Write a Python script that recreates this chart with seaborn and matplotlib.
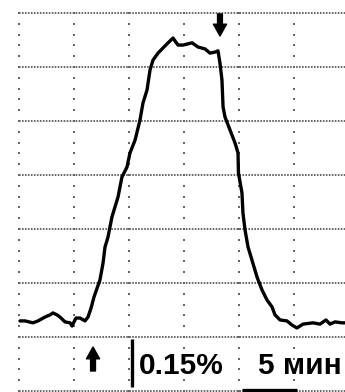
import numpy as np
import pandas as pd
import matplotlib
matplotlib.use("Agg")
import matplotlib.pyplot as plt
import seaborn as sns

# Recorded trace: time (min) vs. signal (%)
time_min = [0.09, 0.55, 1.27, 1.73, 2.36, 2.82, 3.09, 3.45, 3.73, 4.18, 4.64, 4.82,
            5.00, 5.18, 5.55, 6.00, 6.27, 6.55, 6.82, 7.36, 7.64, 7.82, 8.09, 8.45,
            9.00, 9.36, 9.82, 10.09, 10.55, 11.00, 11.27, 11.64, 11.91, 12.18, 12.64,
            13.09, 13.55, 14.00, 14.45, 14.91, 15.73, 16.27, 16.91, 17.36, 17.82, 18.09,
            18.27, 18.45, 18.55, 18.73, 19.18, 19.64, 19.91, 19.95, 20.27, 20.36, 20.55,
            20.82, 21.18, 21.64, 22.09, 22.55, 23.00, 23.27, 23.73, 24.36, 24.82, 25.27,
            25.82, 26.73, 27.36, 27.91, 28.27, 28.73, 29.36, 29.64]
signal_pct = [0.219, 0.219, 0.213, 0.219, 0.231, 0.238, 0.244, 0.238, 0.231, 0.216, 0.213, 0.203,
              0.216, 0.228, 0.228, 0.219, 0.231, 0.259, 0.294, 0.347, 0.400, 0.450, 0.481, 0.544,
              0.606, 0.669, 0.700, 0.744, 0.784, 0.847, 0.900, 0.941, 1.003, 1.034, 1.056,
              1.072, 1.088, 1.103, 1.081, 1.081, 1.088, 1.075, 1.069, 1.056, 1.059, 1.063,
              1.025, 0.972, 0.888, 0.856, 0.816, 0.775, 0.744, 0.681, 0.619, 0.556, 0.503,
              0.450, 0.409, 0.356, 0.316, 0.284, 0.263, 0.238, 0.222, 0.219, 0.206, 0.197,
              0.209, 0.213, 0.209, 0.222, 0.209, 0.216, 0.213, 0.213]

# Scale bars and event markers
amp_bar_pct = 0.15
amp_bar_label = "0.15%"
time_bar_min = 5
time_bar_label = "5 мин"
start_marker_min = 6.73
stop_marker_min = 18.27

df = pd.DataFrame({"t": time_min, "v": signal_pct})

sns.set_style("white")
plt.rcParams["font.family"] = ["Liberation Sans", "DejaVu Sans"]

px_v = amp_bar_pct / 48.0       # signal units per pixel
px_t = time_bar_min / 55.0      # minutes per pixel
row = 54 * px_v                 # grid row height
xlim = (-19 * px_t, 326 * px_t)
ylim = (-1 * px_v, 391 * px_v)

fig = plt.figure(figsize=(3.45, 3.92), dpi=100)
ax = fig.add_axes([0, 0, 1, 1])

grid_col = "#5a5a5a"
# horizontal dotted grid lines
for k in range(8):
    ax.plot([0, xlim[1]], [k * row, k * row], color=grid_col, lw=1.3,
            linestyle=(0, (0.9, 0.75)), clip_on=False, zorder=1)
# vertical columns of dots, five steps per grid row
dot_v = np.arange(0, 36) * row / 5
for c in range(0, 30, 5):
    ax.scatter(np.full(dot_v.shape, float(c)), dot_v, s=4.5, marker="s",
               color="#666666", linewidths=0, zorder=1)

sns.lineplot(data=df, x="t", y="v", ax=ax, color="black", lw=2.4,
             estimator=None, sort=False, zorder=3)
ax.set_xlim(*xlim)
ax.set_ylim(*ylim)
ax.axis("off")

# event arrows
arrow_style = "simple,head_length=0.85,head_width=0.95,tail_width=0.35"
ax.annotate("", xy=(stop_marker_min, 355 * px_v), xytext=(stop_marker_min, 377 * px_v),
            arrowprops=dict(arrowstyle=arrow_style, color="black", mutation_scale=10,
                            shrinkA=0, shrinkB=0))
ax.annotate("", xy=(start_marker_min, 44 * px_v), xytext=(start_marker_min, 20 * px_v),
            arrowprops=dict(arrowstyle=arrow_style, color="black", mutation_scale=10,
                            shrinkA=0, shrinkB=0))

# amplitude scale bar
bar_t = 113 * px_t
bar_v0 = 4 * px_v
ax.plot([bar_t, bar_t], [bar_v0, bar_v0 + amp_bar_pct], color="black", lw=2.4,
        solid_capstyle="butt", zorder=4)
ax.text(120 * px_t, 17 * px_v, amp_bar_label, fontsize=21.5, fontweight="bold",
        ha="left", va="baseline", color="black")

# time scale bar
tb0 = 223 * px_t
ax.plot([tb0, tb0 + time_bar_min], [1.5 * px_v, 1.5 * px_v], color="black", lw=2.4,
        solid_capstyle="butt", clip_on=False, zorder=4)
ax.text(239 * px_t, 17 * px_v, time_bar_label, fontsize=21.5, fontweight="bold",
        ha="left", va="baseline", color="black")

fig.savefig("out.png", dpi=100)
